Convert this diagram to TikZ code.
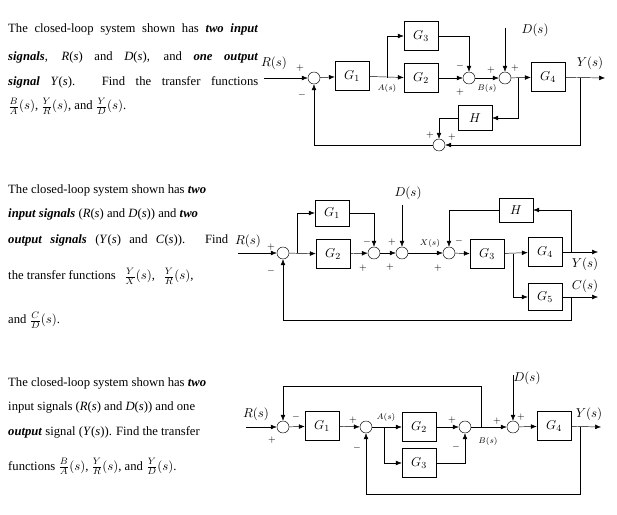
\documentclass[tikz,border=0pt]{standalone}
\usepackage{fontspec}
\setmainfont{Liberation Serif}
\usetikzlibrary{arrows.meta}

\begin{document}
\begin{tikzpicture}[x=0.03cm,y=-0.03cm,font=\fontsize{10.8}{12}\selectfont,
    block/.style={draw,minimum width=1.02cm,minimum height=0.86cm,inner sep=0pt},
    sum/.style={draw,circle,minimum size=0.36cm,inner sep=0pt},
    sig/.style={-{Latex[length=5pt,width=4pt]}},
    txt/.style={anchor=base west,inner sep=0pt},
    sgn/.style={inner sep=0pt,font=\footnotesize}]
    \path[use as bounding box] (0,0) rectangle (617,515);

    % problem 1 text
    \node (p1-a) [txt] at (8,33) {\makebox[7.5cm][s]{The closed-loop system shown has \textbf{\textit{two input}}}};
    \node (p1-b) [txt] at (8,61) {\makebox[7.5cm][s]{\textbf{\textit{signals}}, \textit{R}(\textit{s}) and \textit{D}(\textit{s}), and \textbf{\textit{one output}}}};
    \node (p1-c) [txt] at (8,86) {\makebox[7.5cm][s]{\textbf{\textit{signal}} \textit{Y}(\textit{s}). Find the transfer functions}};
    \node (p1-d) [txt] at (8,110) {$\frac{B}{A}(s)$, $\frac{Y}{R}(s)$, and $\frac{Y}{D}(s)$.};

    % problem 2 text
    \node (p2-a) [txt] at (8,194) {The closed-loop system shown has \textbf{\textit{two}}};
    \node (p2-b) [txt] at (8,218) {\textbf{\textit{input signals}} (\textit{R}(\textit{s}) and \textit{D}(\textit{s})) and \textbf{\textit{two}}};
    \node (p2-c) [txt] at (8,244) {\makebox[6.6cm][s]{\textbf{\textit{output signals}} (\textit{Y}(\textit{s}) and \textit{C}(\textit{s})). Find}};
    \node (p2-d) [txt] at (8,280) {the transfer functions \, $\frac{Y}{X}(s)$, \, $\frac{Y}{R}(s)$,};
    \node (p2-e) [txt] at (8,324) {and $\frac{C}{D}(s)$.};

    % problem 3 text
    \node (p3-a) [txt] at (8,386) {The closed-loop system shown has \textbf{\textit{two}}};
    \node (p3-b) [txt] at (8,410) {input signals (\textit{R}(\textit{s}) and \textit{D}(\textit{s})) and one};
    \node (p3-c) [txt] at (8,435) {\textbf{\textit{output}} signal (\textit{Y}(\textit{s})). Find the transfer};
    \node (p3-d) [txt] at (8,470) {functions $\frac{B}{A}(s)$, $\frac{Y}{R}(s)$, and $\frac{Y}{D}(s)$.};

    % diagram 1
    \node (a-R) at (274,63) {$R(s)$};
    \node (a-sum1) [sum] at (314,78) {};
    \node (a-G1) [block] at (352,76) {$G_1$};
    \node (a-G3) [block] at (421,36) {$G_3$};
    \node (a-G2) [block] at (421,78) {$G_2$};
    \node (a-sum2) [sum] at (469,78) {};
    \node (a-sum3) [sum] at (505,78) {};
    \node (a-G4) [block] at (548,77) {$G_4$};
    \node (a-H) [block,minimum height=0.75cm] at (475,118) {$H$};
    \node (a-sum4) [sum] at (439,145) {};
    \node (a-D) at (535,30) {$D(s)$};
    \node (a-Y) at (590,63) {$Y(s)$};
    \node (a-A) [font=\scriptsize] at (387,88) {$A(s)$};
    \node (a-B) [font=\scriptsize] at (487,88) {$B(s)$};
    \coordinate (a-in) at (264,78);
    \coordinate (a-out) at (605,78);
    \coordinate (a-Dtop) at (505,28);
    \draw[sig] (a-in) -- (a-sum1);
    \draw[sig] (a-sum1) -- (a-G1);
    \draw[sig] (a-G1) -- (a-G2);
    \draw[sig] (387,78) |- (a-G3);
    \draw[sig] (a-G3) -| (a-sum2);
    \draw[sig] (a-G2) -- (a-sum2);
    \draw[sig] (a-sum2) -- (a-sum3);
    \draw[sig] (a-Dtop) -- (a-sum3);
    \draw[sig] (a-sum3) -- (a-G4);
    \draw[sig] (a-G4) -- (a-out);
    \draw[sig] (518,78) |- (a-H);
    \draw[sig] (a-H) -| (a-sum4);
    \draw[sig] (580,78) |- (a-sum4);
    \draw[sig] (a-sum4) -| (a-sum1);
    \node[sgn] at (300,68) {$+$};
    \node[sgn] at (302,95) {$-$};
    \node[sgn] at (460,66) {$-$};
    \node[sgn] at (460,92) {$+$};
    \node[sgn] at (491,70) {$+$};
    \node[sgn] at (515,68) {$+$};
    \node[sgn] at (430,135) {$+$};
    \node[sgn] at (452,137) {$+$};

    % diagram 2
    \node (b-R) at (248,241) {$R(s)$};
    \node (b-sum1) [sum] at (283,253) {};
    \node (b-G1) [block,minimum height=0.78cm] at (332,213) {$G_1$};
    \node (b-G2) [block] at (333,254) {$G_2$};
    \node (b-sum2) [sum] at (374,253) {};
    \node (b-sum3) [sum] at (402,253) {};
    \node (b-sum4) [sum] at (449,253) {};
    \node (b-G3) [block] at (487,254) {$G_3$};
    \node (b-G4) [block] at (545,252) {$G_4$};
    \node (b-G5) [block,minimum height=0.8cm] at (545,297) {$G_5$};
    \node (b-H) [block,minimum height=0.72cm] at (516,210) {$H$};
    \node (b-D) at (408,193) {$D(s)$};
    \node (b-X) [font=\scriptsize] at (430,243) {$X(s)$};
    \node (b-Y) at (585,264) {$Y(s)$};
    \node (b-C) at (585,286) {$C(s)$};
    \coordinate (b-in) at (238,253);
    \coordinate (b-Dtop) at (402,205);
    \coordinate (b-outY) at (598,252);
    \coordinate (b-outC) at (598,297);
    \draw[sig] (b-in) -- (b-sum1);
    \draw[sig] (b-sum1) -- (b-G2);
    \draw[sig] (297,253) |- (b-G1);
    \draw[sig] (b-G1) -| (b-sum2);
    \draw[sig] (b-G2) -- (b-sum2);
    \draw[sig] (b-sum2) -- (b-sum3);
    \draw[sig] (b-Dtop) -- (b-sum3);
    \draw[sig] (b-sum3) -- (b-sum4);
    \draw[sig] (b-sum4) -- (b-G3);
    \draw[sig] (b-G3) -- (b-G4);
    \draw[sig] (513,254) |- (b-G5);
    \draw[sig] (b-G4) -- (b-outY);
    \draw[sig] (b-G5) -- (b-outC);
    \draw[sig] (571,252) |- (b-H);
    \draw[sig] (b-H) -| (b-sum4);
    \draw[sig] (571,297) |- (283,320) -- (b-sum1);
    \node[sgn] at (271,247) {$+$};
    \node[sgn] at (271,271) {$-$};
    \node[sgn] at (367,242) {$-$};
    \node[sgn] at (363,268) {$+$};
    \node[sgn] at (392,242) {$+$};
    \node[sgn] at (390,267) {$+$};
    \node[sgn] at (438,268) {$+$};
    \node[sgn] at (459,241) {$-$};

    % diagram 3
    \node (c-R) at (256,414) {$R(s)$};
    \node (c-sum1) [sum] at (283,427) {};
    \node (c-G1) [block] at (322,426) {$G_1$};
    \node (c-sum2) [sum] at (366,427) {};
    \node (c-G2) [block] at (419,427) {$G_2$};
    \node (c-G3) [block] at (419,463) {$G_3$};
    \node (c-sum3) [sum] at (465,427) {};
    \node (c-sum4) [sum] at (513,427) {};
    \node (c-G4) [block] at (554,426) {$G_4$};
    \node (c-D) at (527,378) {$D(s)$};
    \node (c-A) [font=\scriptsize] at (386,417) {$A(s)$};
    \node (c-B) [font=\scriptsize] at (488,441) {$B(s)$};
    \node (c-Y) at (589,414) {$Y(s)$};
    \coordinate (c-in) at (246,427);
    \coordinate (c-Dtop) at (513,375);
    \coordinate (c-out) at (601,427);
    \draw[sig] (c-in) -- (c-sum1);
    \draw[sig] (c-sum1) -- (c-G1);
    \draw[sig] (c-G1) -- (c-sum2);
    \draw[sig] (c-sum2) -- (c-G2);
    \draw[sig] (384,427) |- (c-G3);
    \draw[sig] (c-G2) -- (c-sum3);
    \draw[sig] (c-G3) -| (c-sum3);
    \draw[sig] (c-sum3) -- (c-sum4);
    \draw[sig] (c-Dtop) -- (c-sum4);
    \draw[sig] (c-sum4) -- (c-G4);
    \draw[sig] (c-G4) -- (c-out);
    \draw[sig] (481,427) |- (283,386) -- (c-sum1);
    \draw[sig] (580,427) |- (366,494) -- (c-sum2);
    \node[sgn] at (272,440) {$+$};
    \node[sgn] at (296,417) {$-$};
    \node[sgn] at (353,420) {$+$};
    \node[sgn] at (357,448) {$-$};
    \node[sgn] at (452,420) {$+$};
    \node[sgn] at (456,447) {$-$};
    \node[sgn] at (497,421) {$+$};
    \node[sgn] at (521,417) {$+$};
\end{tikzpicture}
\end{document}
